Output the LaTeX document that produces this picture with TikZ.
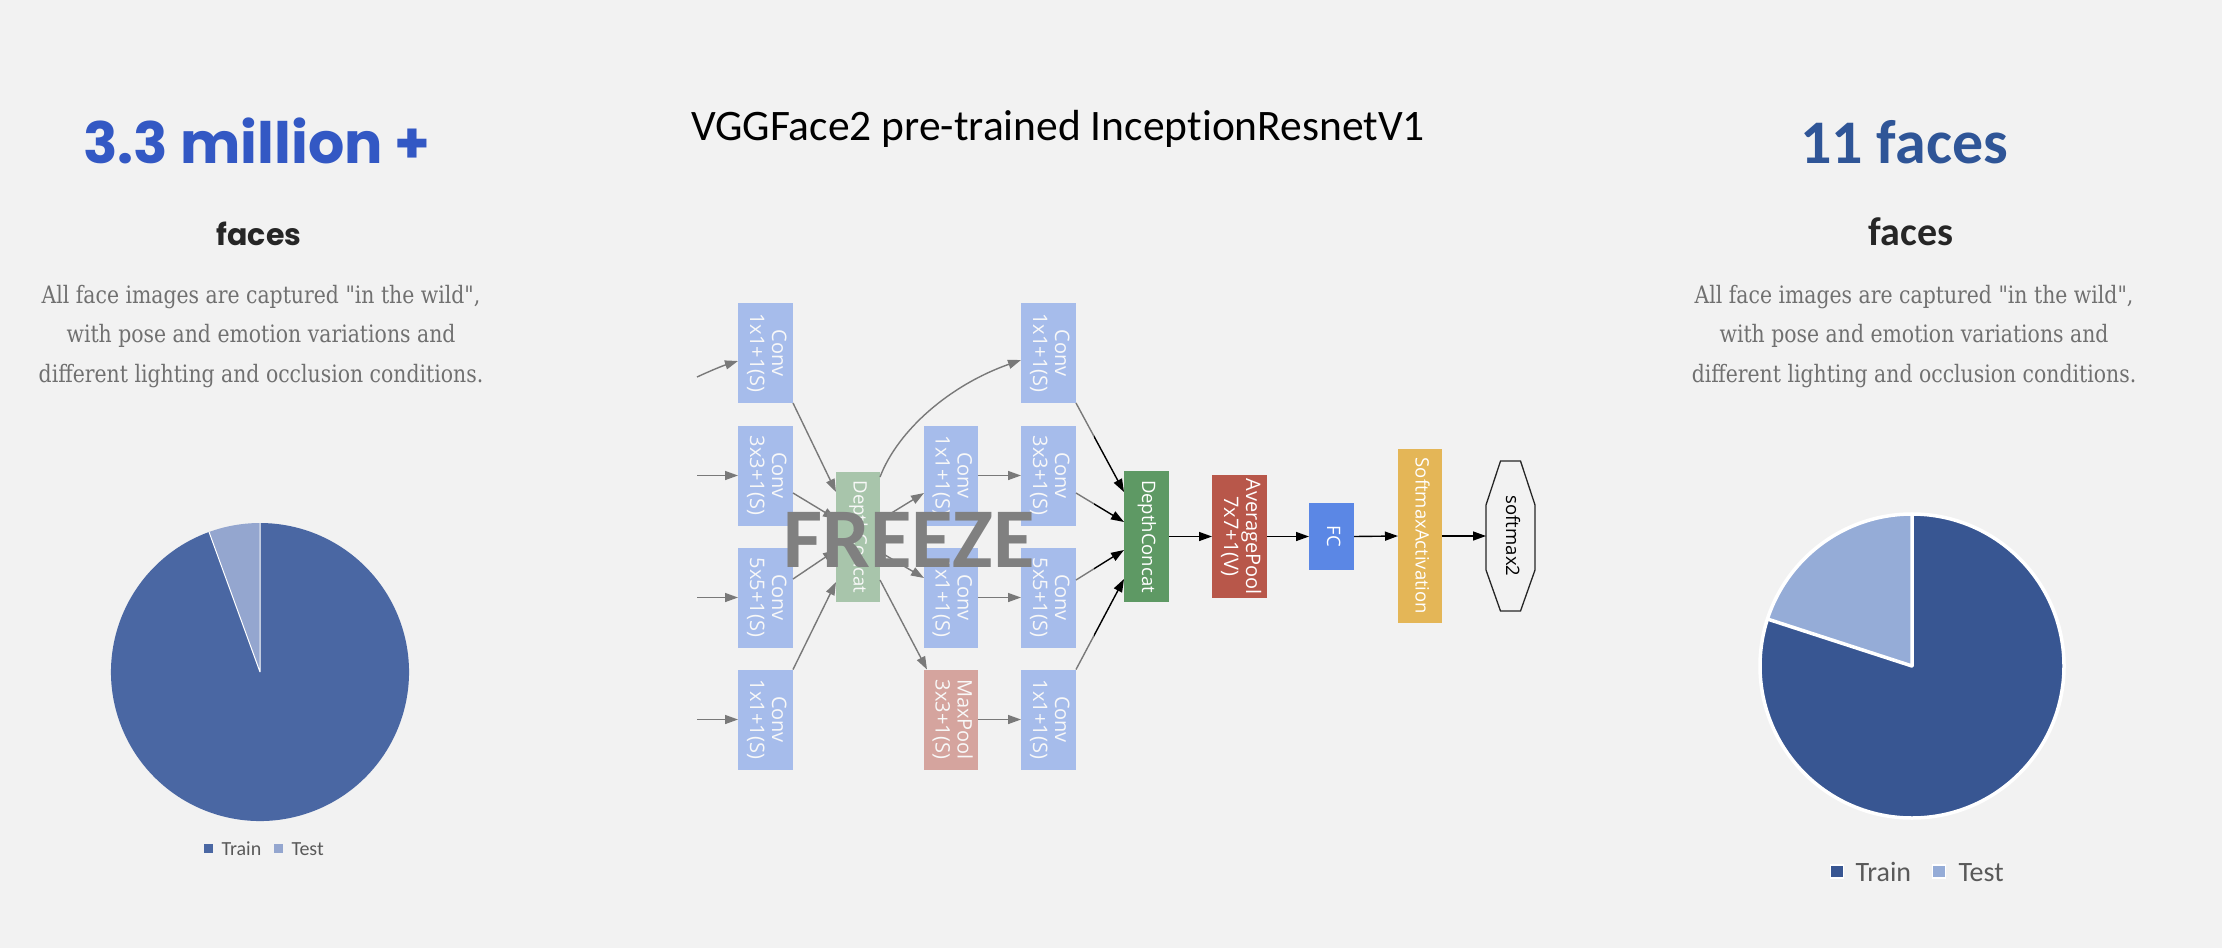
\documentclass[tikz,border=0pt]{standalone}
\usepackage{fontspec}
\setmainfont{Open Sans}
\newfontfamily\popfont{Poppins}
\newfontfamily\carl[Ligatures={NoCommon}]{Carlito}
\newfontfamily\descfont[FakeStretch=0.85]{DejaVu Serif}
\newfontfamily\boxfont{Open Sans}
\usetikzlibrary{arrows.meta,calc}
\definecolor{bg}{HTML}{F2F2F2}
\definecolor{convc}{HTML}{5B87E5}
\definecolor{dcc}{HTML}{5E9964}
\definecolor{poolc}{HTML}{B8574A}
\definecolor{smc}{HTML}{E4B657}
\definecolor{bigblue}{HTML}{3358C4}
\definecolor{bigblueR}{HTML}{2F5597}
\definecolor{desc}{HTML}{707070}
\definecolor{legtxt}{HTML}{595959}
\definecolor{trainL}{HTML}{4A67A3}
\definecolor{testL}{HTML}{94A6CF}
\definecolor{trainR}{HTML}{385692}
\definecolor{testR}{HTML}{95ACD7}
\newcommand\vlab[1]{\rotatebox{-90}{\begin{tabular}{@{}c@{}}#1\end{tabular}}}
\begin{document}
\begin{tikzpicture}[x=1pt,y=-1pt,
  box/.style={inner sep=0pt, outer sep=0pt, text=white,
    font=\boxfont\fontsize{18.5}{22}\selectfont},
  convbox/.style={box, fill=convc, minimum width=55pt, minimum height=100pt,
    font=\boxfont\fontsize{20}{22}\selectfont},
  edge/.style={line width=1.4pt, -{Triangle[length=13pt,width=9pt]}},
  desctext/.style={anchor=base, text=desc, font=\descfont\fontsize{24}{28}\selectfont},
  legtextL/.style={anchor=base west, text=legtxt, font=\carl\fontsize{20}{24}\selectfont},
  legtextR/.style={anchor=base west, text=legtxt, font=\carl\fontsize{28}{32}\selectfont}]
\fill[bg] (0,0) rectangle (2222,948);
\useasboundingbox (0,0) rectangle (2222,948);

% ---------- left column ----------
\node[anchor=base, text=bigblue, font=\popfont\bfseries\fontsize{57}{60}\selectfont] (lbig) at (257,163) {3.3 million +};
\node[anchor=base, text=black!85, font=\popfont\bfseries\fontsize{30}{34}\selectfont] (lfaces) at (259,245) {faces};
\node[desctext] (dl1) at (261,303) {All face images are captured "in the wild",};
\node[desctext] (dl2) at (261,342) {with pose and emotion variations and};
\node[desctext] (dl3) at (261,382) {different lighting and occlusion conditions.};

\coordinate (lp) at (260,672);
\fill[trainL] (lp) -- ++(110:149pt) arc[start angle=110, end angle=450, radius=149pt] -- cycle;
\fill[testL] (lp) -- ++(90:149pt) arc[start angle=90, end angle=110, radius=149pt] -- cycle;
\draw[white, line width=1pt] (lp) -- ++(90:149pt) (lp) -- ++(110:149pt);
\node[fill=trainL, minimum size=9pt, inner sep=0pt] (lsq1) at (208.5,848.5) {};
\node[legtextL] (lt1) at (218,855) {Train};
\node[fill=testL, minimum size=9pt, inner sep=0pt] (lsq2) at (278.5,848.5) {};
\node[legtextL] (lt2) at (288,855) {Test};

% ---------- right column ----------
\node[anchor=base, text=bigblueR, font=\carl\bfseries\fontsize{62}{66}\selectfont] (rbig) at (1904,163) {11 faces};
\node[anchor=base, text=black!85, font=\carl\bfseries\fontsize{40}{44}\selectfont] (rfaces) at (1911,245) {faces};
\node[desctext] (dr1) at (1914,303) {All face images are captured "in the wild",};
\node[desctext] (dr2) at (1914,342) {with pose and emotion variations and};
\node[desctext] (dr3) at (1914,382) {different lighting and occlusion conditions.};

\coordinate (rp) at (1912,666);
\fill[trainR] (rp) -- ++(162:152pt) arc[start angle=162, end angle=450, radius=152pt] -- cycle;
\fill[testR] (rp) -- ++(90:152pt) arc[start angle=90, end angle=162, radius=152pt] -- cycle;
\draw[white, line width=3.5pt] (rp) circle[radius=152pt];
\draw[white, line width=3.5pt, line cap=round] (rp) -- ++(90:152pt) (rp) -- ++(162:152pt);
\node[fill=trainR, draw=white, line width=1.5pt, minimum size=13pt, inner sep=0pt] (rsq1) at (1837,871.5) {};
\node[legtextR] (rt1) at (1852,881) {Train};
\node[fill=testR, draw=white, line width=1.5pt, minimum size=13pt, inner sep=0pt] (rsq2) at (1939,871.5) {};
\node[legtextR] (rt2) at (1955,881) {Test};

% ---------- title ----------
\node[anchor=base, font=\carl\fontsize{43.5}{47}\selectfont] (title) at (1058,140) {VGGFace2 pre-trained InceptionResnetV1};

% ---------- network ----------
\node[convbox] (c1r1) at (765.5,353) {\vlab{Conv\\1x1+1(S)}};
\node[convbox] (c1r2) at (765.5,475.5) {\vlab{Conv\\3x3+1(S)}};
\node[convbox] (c1r3) at (765.5,597.5) {\vlab{Conv\\5x5+1(S)}};
\node[convbox] (c1r4) at (765.5,719.5) {\vlab{Conv\\1x1+1(S)}};
\node[box, fill=dcc, minimum width=44pt, minimum height=130pt] (dc1) at (858,537) {\vlab{DepthConcat}};
\node[convbox, minimum width=54pt] (c2r2) at (951,475.5) {\vlab{Conv\\1x1+1(S)}};
\node[convbox, minimum width=54pt] (c2r3) at (951,597.5) {\vlab{Conv\\1x1+1(S)}};
\node[convbox, minimum width=54pt, fill=poolc] (c2r4) at (951,719.5) {\vlab{MaxPool\\3x3+1(S)}};
\node[convbox] (c3r1) at (1048.5,353) {\vlab{Conv\\1x1+1(S)}};
\node[convbox] (c3r2) at (1048.5,475.5) {\vlab{Conv\\3x3+1(S)}};
\node[convbox] (c3r3) at (1048.5,597.5) {\vlab{Conv\\5x5+1(S)}};
\node[convbox] (c3r4) at (1048.5,719.5) {\vlab{Conv\\1x1+1(S)}};
\node[box, fill=dcc, minimum width=45pt, minimum height=131pt] (dc2) at (1146.5,536.5) {\vlab{DepthConcat}};
\node[box, fill=poolc, minimum width=55pt, minimum height=123pt, font=\boxfont\fontsize{20}{22}\selectfont] (ap) at (1239.5,536.5) {\vlab{AveragePool\\7x7+1(V)}};
\node[box, fill=convc, minimum width=45pt, minimum height=67pt] (fc) at (1331.5,536.5) {\vlab{FC}};
\node[box, fill=smc, minimum width=44pt, minimum height=174pt] (sa) at (1420,536) {\vlab{SoftmaxActivation}};
\node[box, text=black, minimum width=49pt, minimum height=150pt] (sm2) at (1510.5,536) {\vlab{softmax2}};
\draw[line width=1.3pt, black!85] ([xshift=-10pt]sm2.north) -- ([xshift=10pt]sm2.north)
  -- ([yshift=31pt]sm2.east) -- ([yshift=-34pt]sm2.east)
  -- ([xshift=10pt]sm2.south) -- ([xshift=-10pt]sm2.south)
  -- ([yshift=-34pt]sm2.west) -- ([yshift=31pt]sm2.west) -- cycle;

\coordinate (in1) at (697,377);
\coordinate (in2) at (697,475.5);
\coordinate (in3) at (697,597.5);
\coordinate (in4) at (697,719.5);
\draw[edge] (in1) .. controls (710,371) and (722,366) .. ([yshift=-8pt]c1r1.west);
\draw[edge] (in2) -- (c1r2.west);
\draw[edge] (in3) -- (c1r3.west);
\draw[edge] (in4) -- (c1r4.west);

\draw[edge] (c1r1.south east) -- ([yshift=45pt]dc1.west);
\draw[edge] ([yshift=-17.5pt]c1r2.east) -- ([yshift=18pt]dc1.west);
\draw[edge] ([yshift=18.5pt]c1r3.east) -- ([yshift=-13pt]dc1.west);
\draw[edge] (c1r4.north east) -- ([yshift=-45pt]dc1.west);

\draw[edge] ([yshift=-5pt]dc1.north east) .. controls (898,430) and (950,385) .. ([yshift=-7pt]c3r1.west);
\draw[edge] ([yshift=17pt]dc1.east) -- ([yshift=-17.5pt]c2r2.west);
\draw[edge] ([yshift=-15pt]dc1.east) -- ([yshift=19.5pt]c2r3.west);
\draw[edge] ([yshift=-43pt]dc1.east) -- ([xshift=3pt]c2r4.north west);

\draw[edge] (c2r2.east) -- (c3r2.west);
\draw[edge] (c2r3.east) -- (c3r3.west);
\draw[edge] (c2r4.east) -- (c3r4.west);

\draw[edge] (c3r1.south east) -- ([yshift=44.5pt]dc2.west);
\draw[edge] ([yshift=-17.5pt]c3r2.east) -- ([yshift=14.5pt]dc2.west);
\draw[edge] ([yshift=17.5pt]c3r3.east) -- ([yshift=-13.5pt]dc2.west);
\draw[edge] (c3r4.north east) -- ([yshift=-42.5pt]dc2.west);

\draw[edge] (dc2.east) -- (ap.west);
\draw[edge] (ap.east) -- (fc.west);
\draw[edge] (fc.east) -- (sa.west);
\draw[edge] (sa.east) -- (sm2.west);

% frozen part faded
\fill[bg, fill opacity=0.5] (688,290) rectangle (1094,785);
\node[anchor=base, text=black!50, font=\carl\bfseries\fontsize{85}{90}\selectfont] (freeze) at (909,567) {FREEZE};
\end{tikzpicture}
\end{document}
